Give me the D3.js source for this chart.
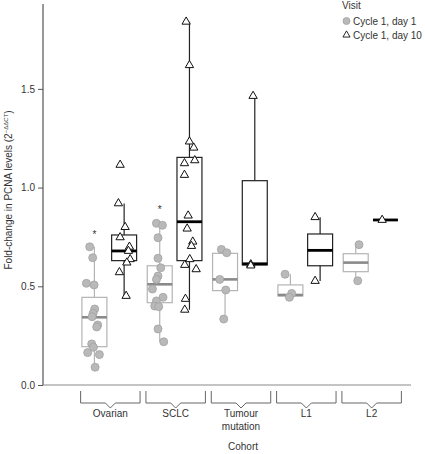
<!DOCTYPE html>
<html><head><meta charset="utf-8">
<script src="https://cdn.jsdelivr.net/npm/d3@7"></script>
<style>body{margin:0;background:#fff}svg{display:block;font-family:"Liberation Sans",Arial,sans-serif}</style>
</head><body><svg id="c" width="425" height="454"></svg>
<script>
const cohorts = ["Ovarian", "SCLC", "Tumour mutation", "L1", "L2"];
const cohortLabels = [["Ovarian"], ["SCLC"], ["Tumour", "mutation"], ["L1"], ["L2"]];
const visits = ["Cycle 1, day 1", "Cycle 1, day 10"];
const yTicks = [0, 0.5, 1.0, 1.5];

// individual values, per cohort, per visit
const day1Values = [
  [0.70, 0.645, 0.515, 0.507, 0.385, 0.363, 0.346, 0.304, 0.294, 0.208, 0.191, 0.164, 0.154, 0.090],
  [0.819, 0.809, 0.746, 0.642, 0.594, 0.552, 0.535, 0.486, 0.444, 0.426, 0.400, 0.397, 0.284, 0.219],
  [0.687, 0.670, 0.535, 0.481, 0.334],
  [0.561, 0.464, 0.444],
  [0.711, 0.528]
];
const day10Values = [
  [1.115, 0.92, 0.80, 0.748, 0.70, 0.679, 0.637, 0.62, 0.571, 0.451],
  [1.84, 1.62, 1.233, 1.202, 1.138, 1.123, 1.064, 0.858, 0.792, 0.726, 0.704, 0.637, 0.608, 0.586, 0.436, 0.381],
  [1.464, 0.611, 0.605],
  [0.85, 0.527],
  [0.836]
];
// box summaries: [whiskerLow, q1, median, q3, whiskerHigh]
const day1Boxes = [
  [0.090, 0.194, 0.343, 0.444, 0.70],
  [0.219, 0.417, 0.510, 0.604, 0.819],
  [0.334, 0.478, 0.535, 0.667, 0.687],
  [0.444, 0.451, 0.456, 0.507, 0.561],
  [0.528, 0.574, 0.620, 0.665, 0.711]
];
const day10Boxes = [
  [0.451, 0.630, 0.679, 0.760, 0.92],
  [0.381, 0.630, 0.827, 1.153, 1.84],
  [0.605, 0.608, 0.614, 1.035, 1.464],
  [0.527, 0.604, 0.682, 0.765, 0.85],
  [0.836, 0.836, 0.836, 0.836, 0.836]
];
// significance asterisks (cohort, visit, height)
const asterisks = [["Ovarian", 0, 0.77], ["SCLC", 0, 0.90]];

// horizontal jitter of points (px), layout only
const jitter1 = [
  [-4.7, -1.7, -8, -0.3, 0.3, -1.3, -2.3, 3.3, 2.3, -2.7, -1, -6.7, 5, 0.7],
  [-3.3, 2.7, -1.7, -1.7, 1, -1.7, -3.3, -7.3, 3.3, -3.3, -5, -1, -1.7, 4],
  [-3.7, 1.7, -5.3, 0.7, -1.3],
  [-5.3, 1.3, -1],
  [3.3, 2]
];
const jitter10 = [
  [-4, -5.7, 1, -4, 5.3, 4.3, 6, 2.7, -4.7, 2],
  [-3.3, 0, 0, 4.3, 5.3, -5, -5, -1.3, -2.3, 3.3, 2, 0.3, -4.7, 6.7, -4, -4.7],
  [-1.7, -4, -4],
  [-5, -5],
  [-3.3]
];

const svg = d3.select("#c");
const y = d3.scaleLinear().domain([0, 1.93]).range([385, 4]);
const x = d3.scaleBand().domain(cohorts).range([78, 404]).paddingInner(0.09).paddingOuter(0.04);
const xs = d3.scaleBand().domain(visits).range([1.3, 56]).paddingInner(0.16);

const styles = [
  {stroke: "#b4b4b4", med: "#8a8a8a", medW: 2.6},
  {stroke: "#222", med: "#000", medW: 2.8}
];

// axes
const yAxis = d3.axisLeft(y).tickValues(yTicks).tickFormat(d3.format(".1f")).tickSize(5).tickPadding(3);
const gy = svg.append("g").attr("transform", "translate(43,0)").call(yAxis);
gy.select(".domain").attr("d", `M0,${y(0)}V${y.range()[1]}`).attr("stroke", "#333");
gy.selectAll(".tick line").attr("stroke", "#555");
gy.selectAll("text").attr("font-size", 10).attr("fill", "#333").attr("font-family", "Liberation Sans, Arial, sans-serif");
svg.append("line").attr("x1", 43).attr("x2", 411).attr("y1", y(0)).attr("y2", y(0)).attr("stroke", "#8a8a8a").attr("stroke-width", 1.2);

// brackets + labels
cohorts.forEach((c, i) => {
  const x0 = x(c), x1 = x(c) + x.bandwidth(), xm = (x0 + x1) / 2;
  svg.append("path")
    .attr("d", `M${x0},391V403H${xm - 5}L${xm},408L${xm + 5},403H${x1}V391`)
    .attr("fill", "none").attr("stroke", "#666").attr("stroke-width", 1);
  cohortLabels[i].forEach((t, j) => {
    svg.append("text").attr("x", xm).attr("y", 417 + j * 13).attr("text-anchor", "middle")
      .attr("font-size", 10).attr("fill", "#333").text(t);
  });
});
svg.append("text").attr("x", (x.range()[0] + x.range()[1]) / 2 + 2).attr("y", 450).attr("text-anchor", "middle")
  .attr("font-size", 10).attr("fill", "#333").text("Cohort");

// y label
const yl = svg.append("text").attr("transform", "translate(12,190) rotate(-90)").attr("text-anchor", "middle")
  .attr("font-size", 10).attr("fill", "#333");
yl.append("tspan").text("Fold-change in PCNA levels (2");
yl.append("tspan").attr("font-size", 6).attr("dy", -4).text("\u2212\u0394\u0394CT");
yl.append("tspan").attr("dy", 4).text(")");

// boxes
const boxSets = [day1Boxes, day10Boxes];
const valSets = [day1Values, day10Values];
const jitSets = [jitter1, jitter10];
const tri = d3.symbol().type(d3.symbolTriangle).size(30);

visits.forEach((v, vi) => {
  cohorts.forEach((c, ci) => {
    const b = boxSets[vi][ci];
    const bx = x(c) + xs(v), bw = xs.bandwidth(), cx = bx + bw / 2;
    const st = styles[vi];
    const g = svg.append("g");
    if (b[4] > b[0]) {
      g.append("line").attr("x1", cx).attr("x2", cx).attr("y1", y(b[3])).attr("y2", y(b[4])).attr("stroke", st.stroke).attr("stroke-width", 1.2);
      g.append("line").attr("x1", cx).attr("x2", cx).attr("y1", y(b[0])).attr("y2", y(b[1])).attr("stroke", st.stroke).attr("stroke-width", 1.2);
      g.append("rect").attr("x", bx).attr("width", bw).attr("y", y(b[3])).attr("height", y(b[1]) - y(b[3]))
        .attr("fill", "none").attr("stroke", st.stroke).attr("stroke-width", 1.2);
    }
    g.append("line").attr("x1", bx).attr("x2", bx + bw).attr("y1", y(b[2])).attr("y2", y(b[2]))
      .attr("stroke", st.med).attr("stroke-width", st.medW);
  });
});

// points
visits.forEach((v, vi) => {
  cohorts.forEach((c, ci) => {
    const cx = x(c) + xs(v) + xs.bandwidth() / 2;
    valSets[vi][ci].forEach((val, k) => {
      const px = cx + jitSets[vi][ci][k], py = y(val);
      if (vi === 0) {
        svg.append("circle").attr("cx", px).attr("cy", py).attr("r", 4)
          .attr("fill", "#b9b9b9").attr("stroke", "#a2a2a2").attr("stroke-width", 0.8);
      } else {
        svg.append("path").attr("d", tri).attr("transform", `translate(${px},${py})`)
          .attr("fill", "#fff").attr("stroke", "#111").attr("stroke-width", 1);
      }
    });
  });
});

// asterisks
asterisks.forEach(([c, vi, h]) => {
  svg.append("text").attr("x", x(c) + xs(visits[vi]) + xs.bandwidth() / 2).attr("y", y(h)).attr("dy", "0.55em")
    .attr("text-anchor", "middle").attr("font-size", 10).attr("fill", "#333").text("*");
});

// legend
svg.append("text").attr("x", 342).attr("y", 9).attr("font-size", 10).attr("fill", "#333").text("Visit");
svg.append("circle").attr("cx", 346.5).attr("cy", 21).attr("r", 3.5).attr("fill", "#b9b9b9").attr("stroke", "#a2a2a2").attr("stroke-width", 0.8);
svg.append("text").attr("x", 353).attr("y", 24.5).attr("font-size", 10).attr("fill", "#333").text(visits[0]);
svg.append("path").attr("d", d3.symbol().type(d3.symbolTriangle).size(22)).attr("transform", "translate(346.5,35)")
  .attr("fill", "#fff").attr("stroke", "#111").attr("stroke-width", 0.9);
svg.append("text").attr("x", 353).attr("y", 38.5).attr("font-size", 10).attr("fill", "#333").text(visits[1]);
</script></body></html>
